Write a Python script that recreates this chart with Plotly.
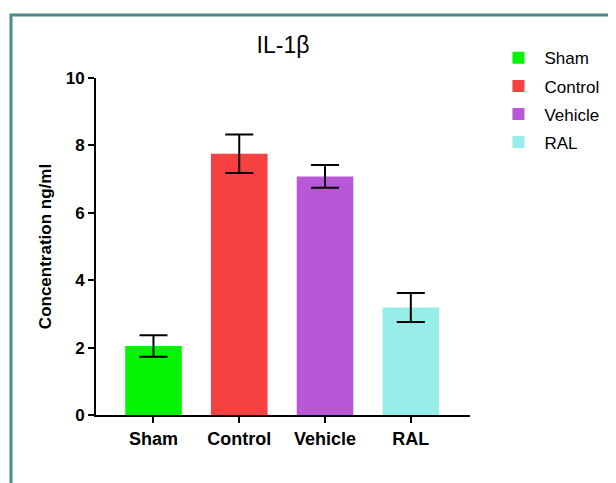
import plotly.graph_objects as go

categories = ["Sham", "Control", "Vehicle", "RAL"]
means = [2.05, 7.75, 7.08, 3.19]
errors = [0.32, 0.57, 0.34, 0.43]
colors = ["#04F404", "#F74141", "#B858D6", "#97EDEA"]
y_ticks = [0, 2, 4, 6, 8, 10]

FONT = "Liberation Sans, Arial, sans-serif"

fig = go.Figure()
for i, cat in enumerate(categories):
    fig.add_trace(go.Bar(
        x=[cat], y=[means[i]], name=cat,
        marker=dict(color=colors[i], line=dict(width=0)),
        width=0.66,
        legendgroup=cat,
        error_y=dict(type="data", array=[errors[i]], color="black", thickness=2, width=14),
    ))

# page has an 8px body margin, so the figure is drawn 8px smaller and shifted
W, H = 608, 475
fig.update_layout(
    width=W, height=H,
    margin=dict(l=88, r=146, t=70, b=68),
    paper_bgcolor="white", plot_bgcolor="white",
    barmode="overlay",
    title=dict(text="IL-1β", x=275/W, xanchor="center", y=1-37/H, yanchor="middle",
               font=dict(family=FONT, size=23, color="black")),
    font=dict(family=FONT, color="black"),
    showlegend=True,
    legend=dict(x=1.06, y=1.112, xanchor="left", yanchor="top",
                font=dict(size=17, color="black"), tracegroupgap=3,
                itemwidth=42, bgcolor="rgba(0,0,0,0)"),
    xaxis=dict(range=[-0.67, 3.69], showline=True, linecolor="black", linewidth=2,
               ticks="outside", ticklen=6, tickwidth=2, tickcolor="black",
               showgrid=False, zeroline=False,
               tickfont=dict(size=18, weight="bold")),
    yaxis=dict(range=[0, 10], tickvals=y_ticks, showline=True, linecolor="black", linewidth=2,
               ticks="outside", ticklen=6, tickwidth=2, tickcolor="black",
               showgrid=False, zeroline=False,
               tickfont=dict(size=17, weight="bold"),
               title=dict(text="Concentration ng/ml", standoff=10,
                          font=dict(size=17, weight="bold"))),
)

# teal frame around the panel
fig.add_shape(type="rect", xref="paper", yref="paper",
              x0=(11-96)/374, x1=(630-96)/374, y0=(415-500)/337, y1=1+(78-15)/337,
              line=dict(color="#4A8A8A", width=3), fillcolor="rgba(0,0,0,0)", layer="below")

fig.write_html("out.html")
